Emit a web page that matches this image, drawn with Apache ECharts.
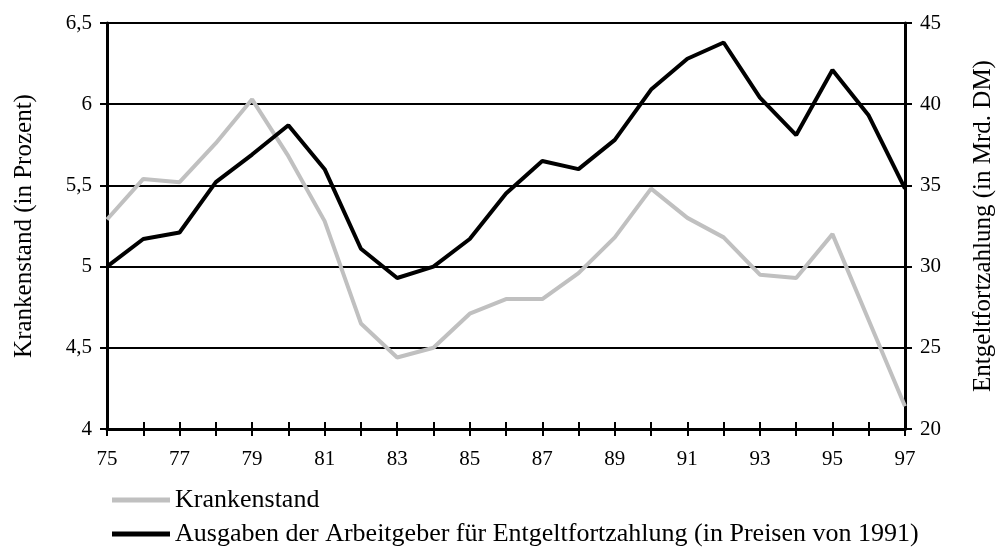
<!DOCTYPE html>
<html>
<head>
<meta charset="utf-8">
<title>Krankenstand und Entgeltfortzahlung</title>
<script src="https://cdn.jsdelivr.net/npm/echarts@6/dist/echarts.min.js"></script>
<style>
    html, body { margin: 0; padding: 0; background: #fff; }
    #chart { width: 1004px; height: 549px; }
</style>
</head>
<body>
<div id="chart"></div>
<script>
// Jahre 1975-1997
var years = ['75','76','77','78','79','80','81','82','83','84','85','86',
             '87','88','89','90','91','92','93','94','95','96','97'];
// Krankenstand in Prozent (linke Achse)
var krankenstand = [5.29, 5.54, 5.52, 5.76, 6.03, 5.68, 5.28, 4.65, 4.44, 4.50, 4.71, 4.80,
                    4.80, 4.96, 5.18, 5.48, 5.30, 5.18, 4.95, 4.93, 5.20, 4.67, 4.14];
// Ausgaben der Arbeitgeber in Mrd. DM (rechte Achse)
var ausgaben = [30.0, 31.7, 32.1, 35.2, 36.9, 38.7, 36.0, 31.1, 29.3, 30.0, 31.7, 34.5,
                36.5, 36.0, 37.8, 40.9, 42.8, 43.8, 40.4, 38.1, 42.1, 39.3, 34.8];

var font = 'Liberation Serif';
var nameA = 'Krankenstand';
var nameB = 'Ausgaben der Arbeitgeber für Entgeltfortzahlung (in Preisen von 1991)';

var myChart = echarts.init(document.getElementById('chart'));

var option = {
    backgroundColor: '#fff',
    animation: false,
    textStyle: { fontFamily: font, color: '#000' },
    grid: { left: 107, right: 96, top: 23, bottom: 120 },
    legend: {
        orient: 'vertical',
        left: 107,
        top: 482,
        height: 120,
        itemWidth: 58,
        itemHeight: 5,
        itemGap: 8,
        selectedMode: false,
        textStyle: { fontFamily: font, fontSize: 26, lineHeight: 26, color: '#000' },
        data: [
            { name: nameA, icon: 'rect' },
            { name: nameB, icon: 'rect' }
        ]
    },
    xAxis: [{
        type: 'category',
        data: years,
        boundaryGap: false,
        axisLine: { lineStyle: { color: '#000', width: 3 } },
        axisTick: { length: 7, interval: 0, lineStyle: { color: '#000', width: 2 } },
        axisLabel: { interval: 1, margin: 20, fontSize: 21, fontFamily: font, color: '#000' }
    }, {
        // nur für die nach innen zeigenden Striche
        type: 'category',
        data: years,
        boundaryGap: false,
        position: 'bottom',
        axisLine: { show: false },
        axisTick: { inside: true, length: 7, interval: 0, lineStyle: { color: '#000', width: 2 } },
        axisLabel: { show: false }
    }],
    yAxis: [{
        type: 'value',
        min: 4,
        max: 6.5,
        interval: 0.5,
        name: 'Krankenstand (in Prozent)',
        nameLocation: 'middle',
        nameGap: 70,
        nameTextStyle: { fontFamily: font, fontSize: 25, color: '#000' },
        axisLine: { show: true, lineStyle: { color: '#000', width: 3 } },
        axisTick: { show: true, length: 7, lineStyle: { color: '#000', width: 2 } },
        axisLabel: {
            margin: 15, fontSize: 21, fontFamily: font, color: '#000',
            formatter: function(v) { return String(v).replace('.', ','); }
        },
        splitLine: { lineStyle: { color: '#000', width: 2 } }
    }, {
        type: 'value',
        min: 20,
        max: 45,
        interval: 5,
        name: 'Entgeltfortzahlung (in Mrd. DM)',
        nameLocation: 'middle',
        nameGap: 66,
        nameTextStyle: { fontFamily: font, fontSize: 25, color: '#000' },
        axisLine: { show: true, lineStyle: { color: '#000', width: 3 } },
        axisTick: { show: true, length: 7, lineStyle: { color: '#000', width: 2 } },
        axisLabel: { margin: 15, fontSize: 21, fontFamily: font, color: '#000' },
        splitLine: { show: false }
    }],
    series: [{
        name: nameA,
        type: 'line',
        yAxisIndex: 0,
        data: krankenstand,
        symbol: 'none',
        color: '#c0c0c0',
        lineStyle: { color: '#c0c0c0', width: 4 },
        z: 3
    }, {
        name: nameB,
        type: 'line',
        yAxisIndex: 1,
        data: ausgaben,
        symbol: 'none',
        color: '#000',
        lineStyle: { color: '#000', width: 4 },
        z: 4
    }]
};

myChart.setOption(option);
</script>
</body>
</html>
